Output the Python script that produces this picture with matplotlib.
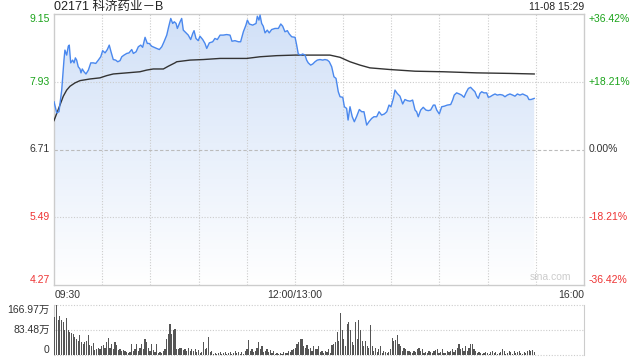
import numpy as np
import matplotlib
matplotlib.use("Agg")
import matplotlib.pyplot as plt
from matplotlib.patches import Polygon

plt.rcParams['font.family'] = ['Liberation Sans', 'Noto Sans CJK SC', 'DejaVu Sans']

# chart texts
title = "02171 科济药业－B"
stamp = "11-08 15:29"
prev_close = 6.71
price_ticks = [9.15, 7.93, 6.71, 5.49, 4.27]
pct_labels = ["+36.42%", "+18.21%", "0.00%", "-18.21%", "-36.42%"]
time_labels = ["09:30", "12:00/13:00", "16:00"]
vol_ticks = [166.97, 83.48, 0]
vol_labels = ["166.97万", "83.48万", "0"]

# minutes since 09:30 (lunch break removed), price in HKD
price_t = [0, 1.7, 3.1, 4.8, 6.2, 6.8, 7.9, 8.9, 9.5, 10.4, 11.6, 12.5, 13.3, 14.1, 15.1,
           16.2, 16.8, 17.6, 18.7, 19.9, 21.4, 22.9, 24.5, 26.0, 27.6, 29.1, 30.3, 31.8,
           33.2, 34.4, 35.5, 36.9, 38.4, 39.7, 41.1, 42.2, 43.6, 45.3, 46.7, 48.4, 49.4,
           51.1, 52.5, 54.0, 55.2, 56.7, 58.1, 59.3, 60.8, 62.3, 63.9, 65.6, 67.1, 68.5,
           70.2, 71.4, 72.7, 73.9, 74.9, 76.0, 76.8, 78.5, 79.5, 80.5, 82.2, 83.6, 85.1,
           86.4, 87.2, 88.4, 89.8, 90.9, 92.6, 94.0, 95.1, 96.7, 98.8, 100.2, 101.7, 103.4,
           105.4, 107.5, 109.6, 110.8, 112.7, 114.8, 116.2, 117.9, 119.5, 120.4, 121.6,
           123.7, 125.8, 126.6, 127.6, 128.3, 129.3, 130.3, 131.4, 132.8, 134.0, 135.5,
           137.6, 139.7, 141.2, 142.4, 143.8, 145.3, 146.5, 148.0, 150.1, 151.1, 152.1,
           153.6, 154.8, 156.3, 157.3, 158.3, 159.8, 161.1, 162.5, 163.9, 165.6, 167.3,
           168.7, 170.2, 171.4, 172.9, 174.3, 175.6, 177.0, 178.1, 179.8, 180.8, 182.2,
           183.1, 184.3, 185.7, 187.0, 188.5, 190.1, 191.6, 193.0, 194.7, 196.1, 197.8,
           199.2, 200.9, 202.4, 204.0, 205.7, 207.2, 208.6, 209.8, 211.3, 212.3, 213.7,
           215.4, 217.1, 218.5, 220.0, 221.7, 223.3, 224.8, 225.8, 226.8, 228.3, 229.9,
           231.6, 233.0, 234.5, 236.2, 237.2, 238.3, 239.9, 241.4, 243.0, 244.9, 247.0,
           248.2, 249.2, 250.7, 252.4, 253.8, 255.3, 256.5, 258.0, 259.4, 260.7, 262.1,
           263.2, 264.2, 265.2, 266.3, 267.7, 269.4, 270.4, 271.5, 273.2, 274.6, 276.0,
           277.7, 279.4, 280.8, 282.2, 283.9, 285.6, 287.0, 288.5, 290.1, 291.8, 293.3,
           294.7, 295.7, 297.0, 299.0]
price = [7.57, 7.37, 7.39, 7.78, 8.32, 8.50, 8.41, 8.57, 8.59, 8.27, 8.32, 8.27, 8.36, 8.32,
         8.20, 8.16, 8.09, 8.16, 8.11, 8.07, 8.14, 8.27, 8.27, 8.26, 8.32, 8.38, 8.49, 8.45,
         8.51, 8.59, 8.47, 8.33, 8.32, 8.29, 8.31, 8.38, 8.41, 8.44, 8.45, 8.51, 8.44, 8.47,
         8.56, 8.59, 8.55, 8.73, 8.62, 8.62, 8.57, 8.55, 8.53, 8.51, 8.56, 8.65, 8.77, 8.92,
         9.07, 8.98, 9.01, 8.98, 8.89, 9.01, 9.07, 8.86, 8.81, 8.77, 8.69, 8.80, 8.85, 8.71,
         8.67, 8.75, 8.69, 8.62, 8.53, 8.63, 8.65, 8.71, 8.69, 8.77, 8.77, 8.78, 8.77, 8.66,
         8.67, 8.65, 8.65, 8.83, 8.95, 9.04, 8.97, 8.95, 8.98, 9.11, 9.04, 9.13, 8.98, 8.93,
         8.81, 8.86, 8.81, 8.87, 8.89, 8.89, 8.97, 8.93, 8.83, 8.85, 8.79, 8.74, 8.73, 8.59,
         8.43, 8.41, 8.43, 8.41, 8.32, 8.27, 8.23, 8.25, 8.29, 8.32, 8.33, 8.32, 8.33, 8.32,
         8.29, 8.20, 8.02, 7.99, 7.75, 7.66, 7.65, 7.48, 7.45, 7.24, 7.48, 7.30, 7.21, 7.31,
         7.43, 7.39, 7.39, 7.15, 7.21, 7.27, 7.30, 7.30, 7.39, 7.33, 7.35, 7.39, 7.51, 7.48,
         7.63, 7.78, 7.72, 7.67, 7.53, 7.61, 7.59, 7.58, 7.60, 7.42, 7.39, 7.30, 7.42, 7.47,
         7.42, 7.41, 7.42, 7.51, 7.51, 7.42, 7.35, 7.48, 7.49, 7.51, 7.52, 7.60, 7.69, 7.73,
         7.71, 7.69, 7.65, 7.73, 7.81, 7.83, 7.79, 7.75, 7.67, 7.63, 7.72, 7.75, 7.73, 7.73,
         7.65, 7.66, 7.69, 7.71, 7.69, 7.70, 7.69, 7.66, 7.69, 7.71, 7.69, 7.67, 7.71, 7.69,
         7.71, 7.69, 7.67, 7.61, 7.61, 7.63]

avg_t = [0, 1.7, 3.7, 5.8, 7.9, 10.0, 13.1, 16.2, 22.4, 28.6, 32.8, 36.9, 45.3, 53.5, 57.7,
         61.8, 68.1, 71.2, 75.3, 76.4, 84.7, 93.0, 103.4, 120.0, 128.3, 138.7, 150.1, 171.8,
         178.1, 184.3, 190.5, 196.7, 209.2, 224.8, 242.4, 263.2, 283.9, 299.0]
avg = [7.23, 7.36, 7.51, 7.67, 7.78, 7.85, 7.91, 7.95, 7.98, 8.00, 8.04, 8.07, 8.09, 8.11,
       8.14, 8.16, 8.16, 8.21, 8.27, 8.29, 8.32, 8.33, 8.35, 8.35, 8.38, 8.40, 8.41, 8.41,
       8.37, 8.29, 8.23, 8.18, 8.15, 8.12, 8.11, 8.09, 8.08, 8.07]

# volume per bar, in 万 shares
volume = [127, 167, 116, 129, 116, 110, 82, 122, 82, 76, 73, 70, 59, 53, 48, 68, 42, 36, 42,
          48, 68, 34, 31, 39, 16, 19, 25, 19, 31, 34, 25, 42, 57, 25, 36, 19, 42, 34, 16, 19,
          14, 16, 14, 11, 8, 11, 36, 14, 19, 36, 14, 25, 36, 19, 53, 42, 25, 14, 36, 16, 11,
          36, 8, 11, 8, 14, 19, 53, 70, 102, 70, 82, 88, 19, 19, 25, 23, 16, 19, 14, 25, 14,
          19, 14, 19, 11, 16, 8, 11, 42, 19, 25, 61, 11, 14, 5, 8, 5, 8, 11, 5, 8, 11, 5, 8,
          11, 5, 8, 14, 8, 11, 5, 11, 5, 14, 19, 50, 14, 19, 11, 14, 25, 42, 19, 31, 11, 14,
          19, 11, 16, 8, 14, 5, 8, 2, 8, 5, 11, 8, 8, 14, 11, 16, 19, 25, 36, 42, 53, 53, 31,
          25, 34, 19, 25, 14, 31, 19, 19, 31,
          11, 14, 8, 14, 11, 19, 8, 34, 36, 42, 76, 48, 139, 82, 53, 31, 104, 110, 82, 42, 34,
          110, 53, 116, 82, 48, 31, 48, 31, 25, 99, 31, 14, 25, 11, 19, 31, 8, 14, 11, 8, 11,
          19, 57, 48, 50, 68, 36, 31, 14, 25, 19, 14, 14, 11, 8, 14, 11, 19, 25, 14, 19, 8, 11,
          8, 14, 11, 8, 14, 16, 19, 8, 11, 19, 8, 8, 14, 11, 14, 19, 11, 16, 25, 36, 19, 25, 14,
          31, 14, 25, 36, 36, 19, 14, 8, 11, 8, 5, 8, 11, 8, 5, 11, 14, 8, 11, 5, 8, 11, 19, 14,
          5, 8, 14, 11, 5, 14, 8, 11, 14, 8, 5, 11, 8, 14, 16, 14, 16, 11]

GREEN = '#1aa31a'
RED = '#ee3333'
DARK = '#333333'
GRID = '#cccccc'
label_colors = [GREEN, GREEN, DARK, RED, RED]
label_va = ['top', 'center', 'center', 'center', 'bottom']

fig = plt.figure(figsize=(6.4, 3.6), dpi=100)
W, H = 640.0, 360.0
ax = fig.add_axes([54 / W, 75 / H, 530 / W, 271 / H])
vax = fig.add_axes([54 / W, 5 / H, 530 / W, 50 / H])

ymin, ymax = price_ticks[-1], price_ticks[0]
ax.set_xlim(0, 330)
ax.set_ylim(ymin, ymax)

# gradient fill under the price line
verts = np.column_stack([np.r_[price_t[0], price_t, price_t[-1]],
                         np.r_[ymin, price, ymin]])
clip = Polygon(verts, closed=True, facecolor='none', edgecolor='none')
ax.add_patch(clip)
top_c = np.array([0.82, 0.88, 0.97])
bot_c = np.array([1.0, 1.0, 1.0])
k = np.linspace(0, 1, 256)[:, None]
grad = (top_c * (1 - k) + bot_c * k)[:, None, :]
img = ax.imshow(grad, extent=[0, 330, ymin, ymax], aspect='auto', origin='upper', zorder=1)
img.set_clip_path(clip)

# grid
for m in range(30, 330, 30):
    ax.axvline(m, color=GRID, lw=0.8, ls=(0, (1, 1.5)), zorder=2)
for v in price_ticks[1:-1]:
    if v == prev_close:
        ax.axhline(v, color='#bbbbbb', lw=0.8, ls=(0, (3, 2)), zorder=2)
    else:
        ax.axhline(v, color=GRID, lw=0.8, ls=(0, (1, 1.5)), zorder=2)

ax.plot(avg_t, avg, color='#333333', lw=1.0, zorder=3)
ax.plot(price_t, price, color='#4a88ee', lw=1.0, zorder=4)

ax.set_xticks([])
ax.set_yticks([])
for s in ax.spines.values():
    s.set_color(GRID)
    s.set_linewidth(1)

ytr = ax.get_yaxis_transform()
for v, pl, c, va in zip(price_ticks, pct_labels, label_colors, label_va):
    ax.text(-0.008, v, f"{v:.2f}", transform=ytr, ha='right', va=va, color=c, fontsize=7.5)
    ax.text(1.008, v, pl, transform=ytr, ha='left', va=va, color=c, fontsize=7.5)

xtr = ax.get_xaxis_transform()
ax.text(0.5, -0.018, time_labels[0], transform=xtr, ha='left', va='top', color=DARK, fontsize=7.5)
ax.text(150, -0.018, time_labels[1], transform=xtr, ha='center', va='top', color=DARK, fontsize=7.5)
ax.text(330, -0.018, time_labels[2], transform=xtr, ha='right', va='top', color=DARK, fontsize=7.5)
ax.text(0.975, 0.01, "sina.com", transform=ax.transAxes, ha='right', va='bottom',
        color='#cccccc', fontsize=7.5, zorder=5)

fig.text(54 / W, 1 - 7 / H, title, ha='left', va='center', color='#222222', fontsize=9)
fig.text(584 / W, 1 - 7 / H, stamp, ha='right', va='center', color='#222222', fontsize=7.5)

# volume panel
bar_t = np.linspace(0.5, 299, len(volume))
vax.bar(bar_t, volume, width=0.75, color='#555555', zorder=3)
vax.set_xlim(0, 330)
vax.set_ylim(0, vol_ticks[0])
for v in vol_ticks:
    vax.axhline(v, color=GRID, lw=0.8, ls=(0, (1, 1.5)), zorder=2, clip_on=False)
vax.set_xticks([])
vax.set_yticks([])
vax.spines['top'].set_visible(False)
vax.spines['bottom'].set_visible(False)
for s in ['left', 'right']:
    vax.spines[s].set_color(GRID)
vtr = vax.get_yaxis_transform()
for v, lab, va in zip(vol_ticks, vol_labels, ['top', 'center', 'bottom']):
    vax.text(-0.008, v, lab, transform=vtr, ha='right', va=va, color=DARK, fontsize=7.5)

fig.savefig("out.png", dpi=100)
